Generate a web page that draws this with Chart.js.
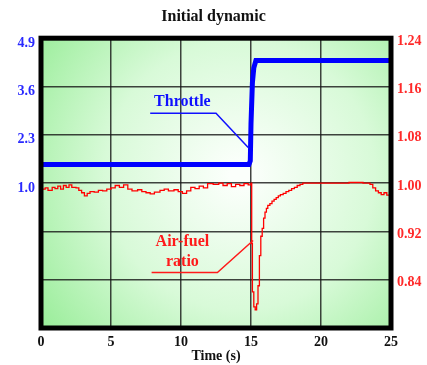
<!DOCTYPE html>
<html>
<head>
<meta charset="utf-8">
<script src="https://cdn.jsdelivr.net/npm/chart.js@4.4.1/dist/chart.umd.min.js"></script>
<style>
  body { margin: 0; background: #fff; }
  canvas { display: block; }
</style>
</head>
<body>
<canvas id="dynChart" width="427" height="365"></canvas>
<script>
// time axis
const timeTicks = [0, 5, 10, 15, 20, 25];

// throttle (left axis)
const throttleTime  = [0, 14.85, 14.95, 15.0, 15.1, 15.2, 15.35, 25];
const throttleValue = [1.5, 1.5, 1.6, 2.6, 3.7, 4.1, 4.3, 4.3];
const leftTicks = [-2.9, -1.6, -0.3, 1.0, 2.3, 3.6, 4.9];

// air-fuel ratio (right axis)
const afrTime = [
  0.0, 0.3, 0.5, 0.8, 1.0, 1.2, 1.4, 1.6, 1.8, 2.0, 2.2, 2.5, 2.7, 2.9, 3.1, 3.3, 3.5, 3.8,
  4.1, 4.4, 4.7, 5.0, 5.3, 5.6, 5.9, 6.2, 6.5, 6.9, 7.2, 7.5, 7.8, 8.1, 8.5, 8.8, 9.1, 9.5,
  9.8, 10.1, 10.4, 10.7, 11.0, 11.3, 11.6, 11.9, 12.3, 12.7, 13.0, 13.3, 13.6, 13.9, 14.2,
  14.5, 14.8, 15.0, 15.05, 15.1, 15.2, 15.3, 15.4, 15.5, 15.6, 15.7, 15.8, 15.9, 16.0, 16.1,
  16.2, 16.35, 16.5, 16.65, 16.8, 16.95, 17.1, 17.3, 17.5, 17.7, 17.9, 18.1, 18.3, 18.5,
  18.7, 20.0, 22.0, 23.0, 23.5, 23.7, 23.9, 24.1, 24.3, 24.5, 24.7, 24.9, 25.0
];
const afrValue = [
  0.990, 0.992, 0.988, 0.993, 0.991, 0.995, 0.990, 0.996, 0.993, 0.997, 0.993, 0.992, 0.988,
  0.984, 0.979, 0.983, 0.986, 0.985, 0.988, 0.987, 0.990, 0.992, 0.996, 0.993, 0.997, 0.990,
  0.987, 0.989, 0.986, 0.984, 0.982, 0.985, 0.988, 0.990, 0.987, 0.989, 0.986, 0.983, 0.987,
  0.993, 0.991, 0.995, 0.992, 0.999, 0.998, 1.000, 0.996, 0.999, 0.994, 0.998, 0.996, 0.999,
  0.997, 1.000, 0.900, 0.820, 0.795, 0.790, 0.800, 0.830, 0.880, 0.912, 0.925, 0.942, 0.952,
  0.958, 0.963, 0.966, 0.970, 0.973, 0.976, 0.979, 0.981, 0.983, 0.986, 0.988, 0.991, 0.993,
  0.996, 0.998, 1.000, 1.000, 1.001, 1.000, 0.998, 0.992, 0.987, 0.984, 0.981, 0.984, 0.980,
  0.986, 0.983
];
const rightTicks = [0.76, 0.84, 0.92, 1.00, 1.08, 1.16, 1.24];

// callout labels, anchored in data units
const throttleNote = { lines: ['Throttle'], x: 10.1, y: 3.2, axis: 'y' };
const throttleLeader = [[7.8, 2.88], [12.5, 2.88], [14.8, 1.96]];
const afrNote = { lines: ['Air-fuel', 'ratio'], x: 10.1, y: 0.902, axis: 'y1' };
const afrLeader = [[7.9, 0.852], [12.6, 0.852], [15.15, 0.905]];

const serif = '"Liberation Serif", "DejaVu Serif", serif';
const BLUE = '#0000ff';
const RED = '#ff0000';

const plotBg = {
  id: 'plotBg',
  beforeDraw(chart) {
    const { ctx, chartArea: a } = chart;
    const g = ctx.createRadialGradient(240, 175, 10, 240, 175, 260);
    g.addColorStop(0, '#fbfffb');
    g.addColorStop(0.5, '#d8fad8');
    g.addColorStop(1, '#94ec94');
    ctx.save();
    ctx.fillStyle = g;
    ctx.fillRect(a.left, a.top, a.right - a.left, a.bottom - a.top);
    ctx.restore();
  },
  afterDraw(chart) {
    const { ctx, chartArea: a } = chart;
    ctx.save();
    ctx.strokeStyle = '#000';
    ctx.lineWidth = 5;
    ctx.strokeRect(a.left, a.top, a.right - a.left, a.bottom - a.top);
    ctx.restore();
  }
};

function drawNote(chart, note, leader, color) {
  const { ctx, scales } = chart;
  const xs = scales.x, ys = scales[note.axis];
  ctx.save();
  ctx.strokeStyle = color;
  ctx.lineWidth = 1.5;
  ctx.beginPath();
  leader.forEach(([t, v], i) => {
    const px = xs.getPixelForValue(t), py = ys.getPixelForValue(v);
    if (i === 0) ctx.moveTo(px, py); else ctx.lineTo(px, py);
  });
  ctx.stroke();
  ctx.fillStyle = color;
  ctx.font = 'bold 16px ' + serif;
  ctx.textAlign = 'center';
  ctx.textBaseline = 'middle';
  const cx = xs.getPixelForValue(note.x);
  const cy = ys.getPixelForValue(note.y);
  note.lines.forEach((s, i) => ctx.fillText(s, cx, cy + i * 20));
  ctx.restore();
}

const notes = {
  id: 'notes',
  afterDatasetsDraw(chart) {
    drawNote(chart, throttleNote, throttleLeader, '#1010ff');
    drawNote(chart, afrNote, afrLeader, '#ff1a1a');
  }
};

new Chart(document.getElementById('dynChart').getContext('2d'), {
  type: 'line',
  data: {
    datasets: [
      {
        label: 'Throttle',
        data: throttleTime.map((t, i) => ({ x: t, y: throttleValue[i] })),
        borderColor: BLUE,
        borderWidth: 5,
        pointRadius: 0,
        yAxisID: 'y'
      },
      {
        label: 'Air-fuel ratio',
        data: afrTime.map((t, i) => ({ x: t, y: afrValue[i] })),
        borderColor: RED,
        borderWidth: 1.3,
        pointRadius: 0,
        stepped: true,
        yAxisID: 'y1'
      }
    ]
  },
  options: {
    responsive: false,
    animation: false,
    devicePixelRatio: 1,
    layout: { padding: 0 },
    plugins: {
      legend: { display: false },
      tooltip: { enabled: false },
      title: {
        display: true,
        text: 'Initial dynamic',
        color: '#111',
        font: { family: serif, size: 16, weight: 'bold', lineHeight: 1.2 },
        padding: { top: 7, bottom: 12 }
      }
    },
    scales: {
      x: {
        type: 'linear',
        min: 0,
        max: 25,
        afterBuildTicks: s => { s.ticks = timeTicks.map(v => ({ value: v })); },
        afterFit: s => { s.height = 37; },
        border: { display: false },
        grid: { color: 'rgba(20,20,20,0.8)', lineWidth: 1.5, drawTicks: false },
        ticks: {
          color: '#111',
          padding: 6,
          font: { family: serif, size: 14, weight: 'bold' }
        },
        title: {
          display: true,
          text: 'Time (s)',
          color: '#111',
          padding: 0,
          font: { family: serif, size: 14, weight: 'bold' }
        }
      },
      y: {
        position: 'left',
        min: -2.9,
        max: 4.9,
        afterBuildTicks: s => { s.ticks = leftTicks.map(v => ({ value: v })); },
        afterFit: s => { s.width = 41; },
        border: { display: false },
        grid: { color: 'rgba(20,20,20,0.8)', lineWidth: 1.5, drawTicks: false },
        ticks: {
          color: '#2a2aff',
          padding: 6,
          labelOffset: 5,
          font: { family: serif, size: 14, weight: 'bold' },
          callback: v => (v >= 0.99 ? v.toFixed(1) : '')
        }
      },
      y1: {
        position: 'right',
        min: 0.76,
        max: 1.24,
        afterBuildTicks: s => { s.ticks = rightTicks.map(v => ({ value: v })); },
        afterFit: s => { s.width = 36; },
        border: { display: false },
        grid: { display: false, drawTicks: false },
        ticks: {
          color: '#ff2a2a',
          padding: 6,
          labelOffset: 3,
          font: { family: serif, size: 14, weight: 'bold' },
          callback: v => (v >= 0.83 ? v.toFixed(2) : '')
        }
      }
    }
  },
  plugins: [plotBg, notes]
});
</script>
</body>
</html>
